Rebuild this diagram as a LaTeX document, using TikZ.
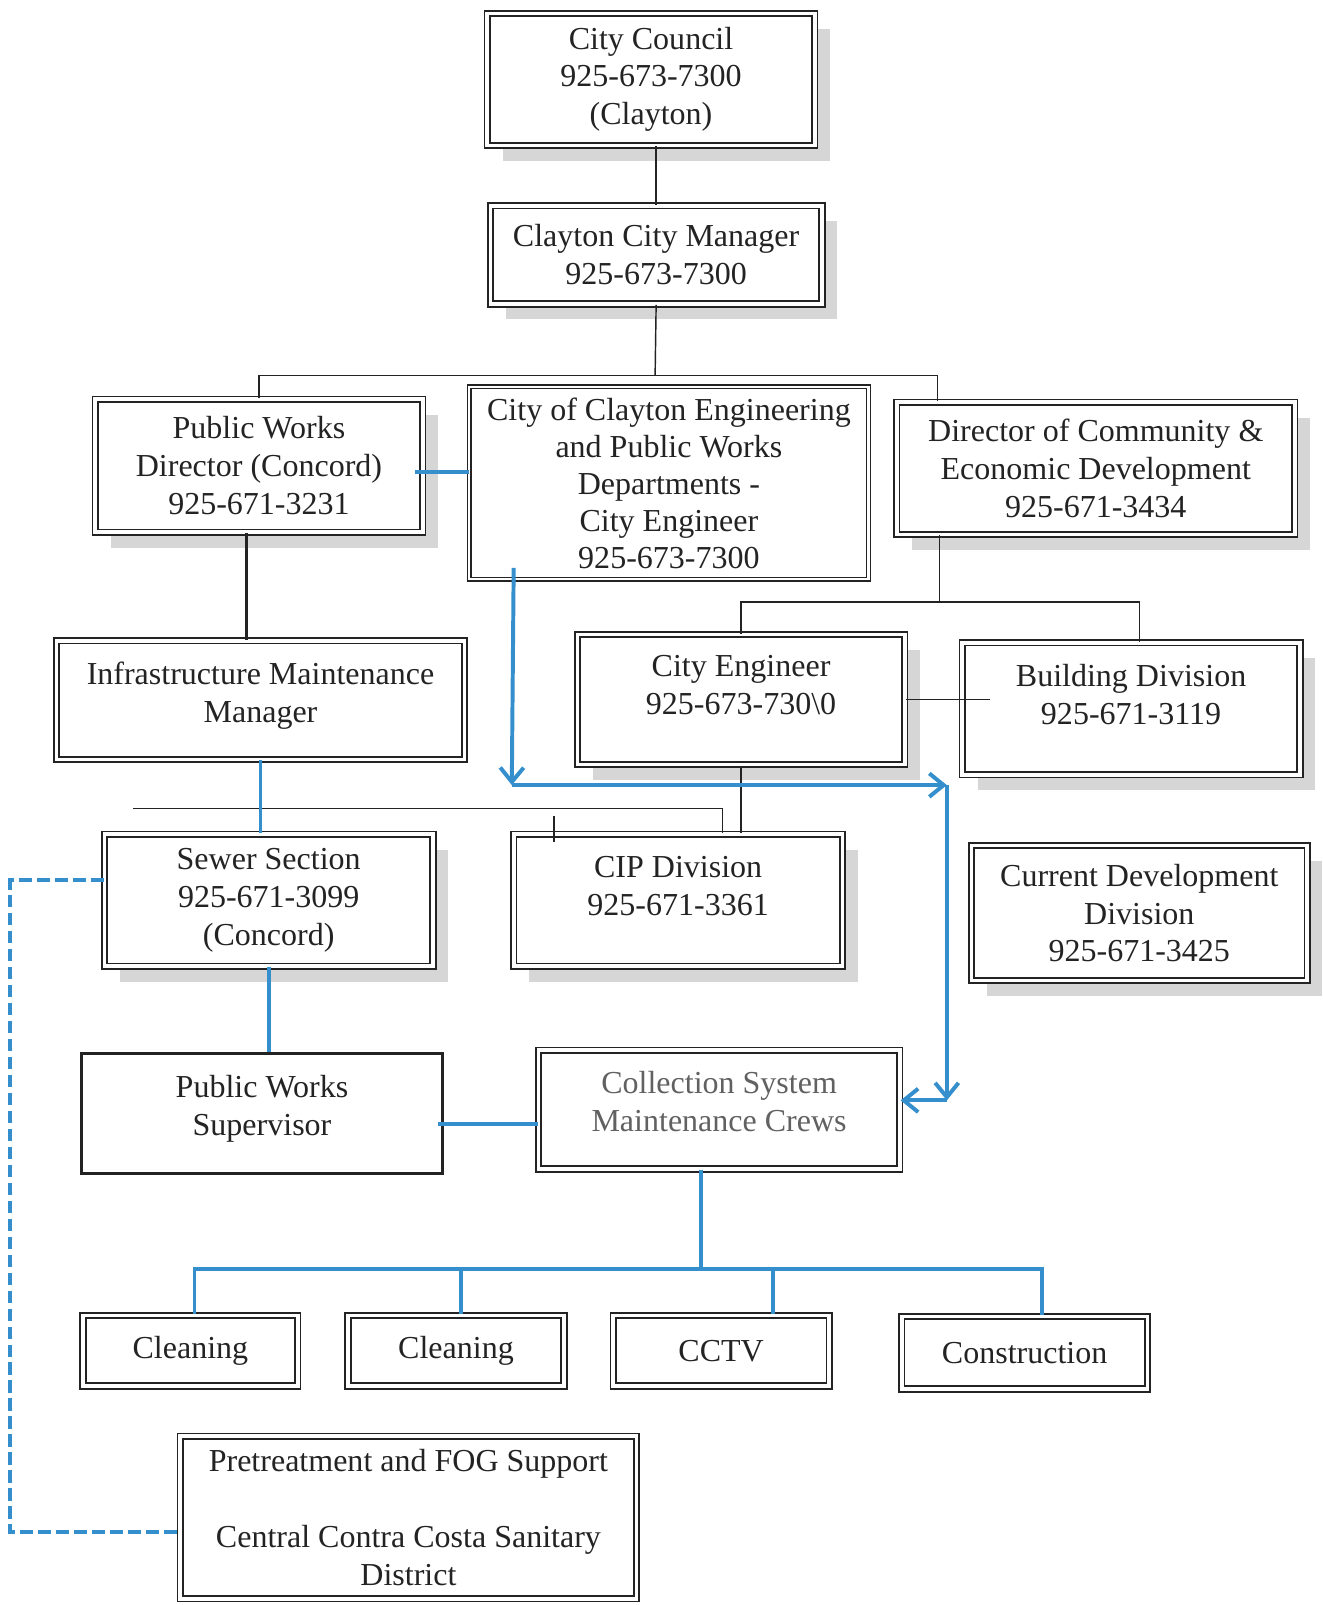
\documentclass[tikz,border=0pt]{standalone}
\usepackage{fontspec}
\setmainfont{Liberation Serif}
\usepackage{tikz}
\usetikzlibrary{calc, positioning, shadows, arrows.meta}

\definecolor{chartblue}{RGB}{52,143,204}
\definecolor{inkgray}{RGB}{35,35,35}

\begin{document}
\begin{tikzpicture}[x=0.02cm, y=-0.02cm,
    org box/.style={draw=inkgray, double, line width=1pt, double distance=2pt, fill=white, align=center, inner sep=0pt, text=inkgray, font=\fontsize{17.8}{21}\selectfont},
    shade box/.style={org box, drop shadow={shadow xshift=0.3cm, shadow yshift=-0.3cm, fill=black!16, opacity=1}},
    thin box/.style={org box, line width=0.8pt, double distance=1.2pt, font=\fontsize{17.8}{20.6}\selectfont},
    plain box/.style={org box, double=none, line width=1.6pt},
    link/.style={draw=inkgray, line width=0.8pt},
    blue link/.style={draw=chartblue, line width=2.2pt},
    blue arrow/.style={blue link, -{Straight Barb[length=8pt, width=13pt]}},
    dash link/.style={draw=chartblue, line width=2.2pt, dash pattern=on 7pt off 3pt}]
    \useasboundingbox (0,0) rectangle (1292,1568);

    \node[shade box, minimum width=6.40cm, minimum height=2.58cm] (council) at (636,77.5) {City Council\\925-673-7300\\(Clayton)};
    \node[shade box, minimum width=6.48cm, minimum height=1.92cm] (manager) at (641,249) {Clayton City Manager\\925-673-7300};

    \node[shade box, minimum width=6.40cm, minimum height=2.60cm] (pwdir) at (253,455) {Public Works\\Director (Concord)\\925-671-3231};
    \node[thin box, minimum width=7.80cm, minimum height=3.76cm] (eng) at (653.5,472) {City of Clayton Engineering\\and Public Works\\Departments -\\City Engineer\\925-673-7300};
    \node[shade box, minimum width=7.78cm, minimum height=2.58cm] (commdev) at (1070.5,457.5) {Director of Community \&\\Economic Development\\925-671-3434};

    \node[org box, minimum width=7.98cm, minimum height=2.32cm] (infra) at (254.5,684) {Infrastructure Maintenance\\Manager\\[-12pt]\mbox{}};
    \node[shade box, minimum width=6.40cm, minimum height=2.54cm] (cityeng) at (724,683.5) {City Engineer\\925-673-730\textbackslash0\\[-5pt]\mbox{}};
    \node[shade box, minimum width=6.60cm, minimum height=2.58cm] (building) at (1105,692.5) {Building Division\\925-671-3119\\[-5pt]\mbox{}};

    \node[shade box, minimum width=6.42cm, minimum height=2.58cm] (sewer) at (262.5,879.5) {Sewer Section\\925-671-3099\\(Concord)};
    \node[shade box, minimum width=6.42cm, minimum height=2.58cm] (cip) at (662.5,879.5) {CIP Division\\925-671-3361\\[-5pt]\mbox{}};
    \node[shade box, minimum width=6.56cm, minimum height=2.64cm] (curdev) at (1113,892) {Current Development\\Division\\925-671-3425};

    \node[plain box, minimum width=7.06cm, minimum height=2.34cm] (pwsup) at (256,1088) {Public Works\\Supervisor\\[-12pt]\mbox{}};
    \node[org box, text=black!62, minimum width=7.06cm, minimum height=2.32cm] (crews) at (702.5,1084) {Collection System\\Maintenance Crews\\[-12pt]\mbox{}};

    \node[org box, minimum width=4.20cm, minimum height=1.38cm] (clean1) at (186,1319.5) {Cleaning};
    \node[org box, minimum width=4.22cm, minimum height=1.38cm] (clean2) at (445.5,1319.5) {Cleaning};
    \node[org box, minimum width=4.22cm, minimum height=1.38cm] (cctv) at (704.5,1319.5) {CCTV};
    \node[org box, minimum width=4.80cm, minimum height=1.42cm] (constr) at (1001,1321.5) {Construction};

    \node[org box, minimum width=8.92cm, minimum height=3.18cm] (pretreat) at (399,1482.5) {Pretreatment and FOG Support\\[21pt]Central Contra Costa Sanitary\\District};

    % black reporting lines
    \coordinate (top bus) at (640,367);
    \coordinate (cd drop) at (916,367);
    \draw[link] (manager.north) -- (manager.north |- council.south);
    \draw[link] (manager.south) -- (top bus);
    \draw[link] (pwdir.north) |- (cd drop) -- (cd drop |- commdev.north);

    \coordinate (pw foot) at ($(pwdir.south)+(-12,0)$);
    \draw[link, line width=1.4pt] (pw foot) -- (pw foot |- infra.north);

    \coordinate (cd split) at (918,588);
    \draw[link] (cd split |- commdev.south) -- (cd split);
    \draw[link] (cityeng.north) |- (cd split) -| ($(building.north)+(8,0)$);
    \draw[link] (cityeng.east) -- ($(cityeng.east -| building.west)+(28,0)$);
    \draw[link] (cityeng.south) -- (cityeng.south |- cip.north);

    \coordinate (cip bus) at (130,790);
    \draw[link] (cip bus) -| ($(cip.north)+(43.5,0)$);
    \draw[link] ($(cip.north west)+(40,-17)$) -- ++(0,25);

    % blue lines
    \coordinate (pw side) at ($(pwdir.east)+(-8,6)$);
    \draw[blue link] (pw side) -- (pw side -| eng.west);
    \draw[blue link] (infra.south) -- (infra.south |- sewer.north);
    \draw[blue link] (sewer.south) -- (sewer.south |- pwsup.north);
    \coordinate (sup side) at ($(pwsup.east)+(-6,10)$);
    \draw[blue link] (sup side) -- (sup side -| crews.west);

    \coordinate (crew bus) at (685,1240);
    \draw[blue link] ($(crews.south)+(-17.5,0)$) -- (crew bus);
    \foreach \n/\dx in {clean1/4, clean2/4.5, cctv/50.5, constr/17}
        \draw[blue link] ($(\n.north)+(\dx,0)$) |- (crew bus);

    \coordinate (eng start) at ($(eng.south west)+(44,-12)$);
    \coordinate (bend a) at (500,767);
    \coordinate (bend b) at (925,767);
    \coordinate (bend c) at (925,1075);
    \draw[blue arrow] (eng start) -- (bend a);
    \draw[blue arrow] (bend a) -- (bend b);
    \draw[blue arrow] (bend b) -- (bend c);
    \draw[blue arrow] (bend c) -- (crews.east |- bend c);

    \coordinate (dash corner) at (10,1497);
    \draw[dash link] ($(sewer.west)+(0,-19.5)$) -| (dash corner) -- ($(dash corner -| pretreat.west)$);
\end{tikzpicture}
\end{document}
